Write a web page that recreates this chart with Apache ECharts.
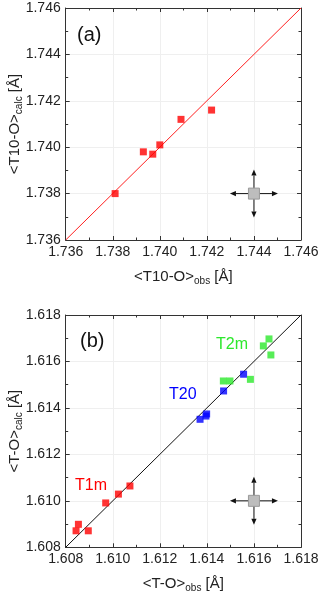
<!DOCTYPE html>
<html>
<head>
<meta charset="utf-8">
<script src="https://cdn.jsdelivr.net/npm/echarts@6/dist/echarts.min.js"></script>
<style>
  html, body { margin: 0; padding: 0; background: #fff; }
  #chart { width: 320px; height: 591px; }
</style>
</head>
<body>
<div id="chart"></div>
<script>
// panel (a): <T10-O> obs vs calc
const t10Obs  = [1.7381, 1.7393, 1.7397, 1.7400, 1.7409, 1.7422];
const t10Calc = [1.7380, 1.7398, 1.7397, 1.7401, 1.7412, 1.7416];
const rangeA = [1.736, 1.746];

// panel (b): <T-O> obs vs calc, three sites
const t1mObs  = [1.60844, 1.60854, 1.60896, 1.6097, 1.61024, 1.61073];
const t1mCalc = [1.60871, 1.60899, 1.60871, 1.60991, 1.61029, 1.61064];
const t20Obs  = [1.61371, 1.61396, 1.61399, 1.61471, 1.61556];
const t20Calc = [1.61351, 1.61365, 1.61374, 1.61473, 1.61545];
const t2mObs  = [1.61470, 1.61498, 1.61585, 1.6164, 1.61664, 1.61672];
const t2mCalc = [1.61516, 1.61516, 1.61523, 1.61667, 1.61697, 1.61628];
const rangeB = [1.608, 1.618];

// centre of the gray "error cross" glyph
const crossA = [1.744, 1.738];
const crossB = [1.616, 1.610];

const FONT = 'Liberation Sans, Arial, sans-serif';
const TXT = '#222';
const GREEN = '#2de82d';

const pairs = (xs, ys) => xs.map((x, i) => [x, ys[i]]);

const nameStyle = {
  color: TXT, fontSize: 15, fontFamily: FONT,
  rich: { sub: { fontSize: 10, color: TXT, fontFamily: FONT, verticalAlign: 'bottom', padding: [9, 0, 0, 0] } }
};

function axisBase(idx, range) {
  return {
    gridIndex: idx, type: 'value', min: range[0], max: range[1], interval: 0.002,
    axisLine: { show: true, onZero: false, lineStyle: { color: '#333', width: 1 } },
    axisTick: { show: true, inside: true, length: 4, lineStyle: { color: '#333' } },
    minorTick: { show: true, splitNumber: 2, length: 2.5, lineStyle: { color: '#333' } },
    splitLine: { show: false }
  };
}

function xAxes(idx, range, name) {
  const base = axisBase(idx, range);
  return [
    Object.assign({}, base, {
      position: 'bottom',
      splitLine: { show: true, lineStyle: { color: '#efefef', width: 1 } },
      axisLabel: { color: TXT, fontSize: 14, fontFamily: FONT, margin: 5,
        formatter: v => v.toFixed(3) },
      name: name, nameLocation: 'middle', nameGap: 27, nameMoveOverlap: false,
      nameTextStyle: nameStyle
    }),
    Object.assign({}, base, { position: 'top', axisLabel: { show: false } })
  ];
}

function yAxes(idx, range, name) {
  const base = axisBase(idx, range);
  return [
    Object.assign({}, base, {
      position: 'left',
      splitLine: { show: true, lineStyle: { color: '#efefef', width: 1 } },
      axisLabel: { color: TXT, fontSize: 14, fontFamily: FONT, margin: 5,
        formatter: v => v.toFixed(3) },
      name: name, nameLocation: 'middle', nameGap: 41, nameRotate: 90, nameMoveOverlap: false,
      nameTextStyle: nameStyle
    }),
    Object.assign({}, base, { position: 'right', axisLabel: { show: false } })
  ];
}

function crossItem(params, api) {
  const c = api.coord([api.value(0), api.value(1)]);
  const L = 24, h = 6, w = 2.6, s = 11;
  const st = { stroke: '#111', lineWidth: 1 };
  const head = (pts) => ({ type: 'polygon', shape: { points: pts }, style: { fill: '#111' } });
  const x = c[0], y = c[1];
  return {
    type: 'group',
    children: [
      { type: 'line', shape: { x1: x - L + h, y1: y, x2: x + L - h, y2: y }, style: st },
      { type: 'line', shape: { x1: x, y1: y - L + h, x2: x, y2: y + L - h }, style: st },
      head([[x - L, y], [x - L + h, y - w], [x - L + h, y + w]]),
      head([[x + L, y], [x + L - h, y - w], [x + L - h, y + w]]),
      head([[x, y - L], [x - w, y - L + h], [x + w, y - L + h]]),
      head([[x, y + L], [x - w, y + L - h], [x + w, y + L - h]]),
      { type: 'rect', shape: { x: x - s / 2, y: y - s / 2, width: s, height: s },
        style: { fill: '#bdbdbd', stroke: '#999', lineWidth: 1 } }
    ]
  };
}

const sq = (xi, yi, data, color) => ({
  type: 'scatter', xAxisIndex: xi, yAxisIndex: yi, data: data,
  symbol: 'rect', symbolSize: 7, itemStyle: { color: color }, z: 5, silent: true
});

const chart = echarts.init(document.getElementById('chart'), null, { renderer: 'canvas' });
chart.setOption({
  animation: false,
  backgroundColor: '#fff',
  grid: [
    { left: 65.7, top: 8, width: 235.3, height: 232, containLabel: false, outerBoundsMode: 'none' },
    { left: 65.7, top: 315, width: 235.3, height: 232.3, containLabel: false, outerBoundsMode: 'none' }
  ],
  xAxis: [].concat(
    xAxes(0, rangeA, '<T10-O>{sub|obs} [Å]'),
    xAxes(1, rangeB, '<T-O>{sub|obs} [Å]')
  ),
  yAxis: [].concat(
    yAxes(0, rangeA, '<T10-O>{sub|calc} [Å]'),
    yAxes(1, rangeB, '<T-O>{sub|calc} [Å]')
  ),
  series: [
    { type: 'line', xAxisIndex: 0, yAxisIndex: 0, data: [[rangeA[0], rangeA[0]], [rangeA[1], rangeA[1]]],
      showSymbol: false, lineStyle: { color: '#ff2020', width: 1 }, z: 3, silent: true },
    sq(0, 0, pairs(t10Obs, t10Calc), '#ff0000'),
    { type: 'custom', xAxisIndex: 0, yAxisIndex: 0, data: [crossA], renderItem: crossItem, z: 4, silent: true },

    { type: 'line', xAxisIndex: 2, yAxisIndex: 2, data: [[rangeB[0], rangeB[0]], [rangeB[1], rangeB[1]]],
      showSymbol: false, lineStyle: { color: '#111', width: 1 }, z: 3, silent: true },
    sq(2, 2, pairs(t1mObs, t1mCalc), '#ff0000'),
    sq(2, 2, pairs(t20Obs, t20Calc), '#0000ff'),
    sq(2, 2, pairs(t2mObs, t2mCalc), GREEN),
    { type: 'custom', xAxisIndex: 2, yAxisIndex: 2, data: [crossB], renderItem: crossItem, z: 4, silent: true }
  ],
  graphic: [
    { type: 'text', left: 77, top: 25, style: { text: '(a)', fontSize: 20, fontFamily: FONT, fill: '#111' } },
    { type: 'text', left: 80, top: 331, style: { text: '(b)', fontSize: 20, fontFamily: FONT, fill: '#111' } },
    { type: 'text', left: 216, top: 337, style: { text: 'T2m', fontSize: 16, fontFamily: FONT, fill: GREEN } },
    { type: 'text', left: 169, top: 387, style: { text: 'T20', fontSize: 16, fontFamily: FONT, fill: '#0000ff' } },
    { type: 'text', left: 75, top: 478, style: { text: 'T1m', fontSize: 16, fontFamily: FONT, fill: '#ff0000' } }
  ]
});
</script>
</body>
</html>
